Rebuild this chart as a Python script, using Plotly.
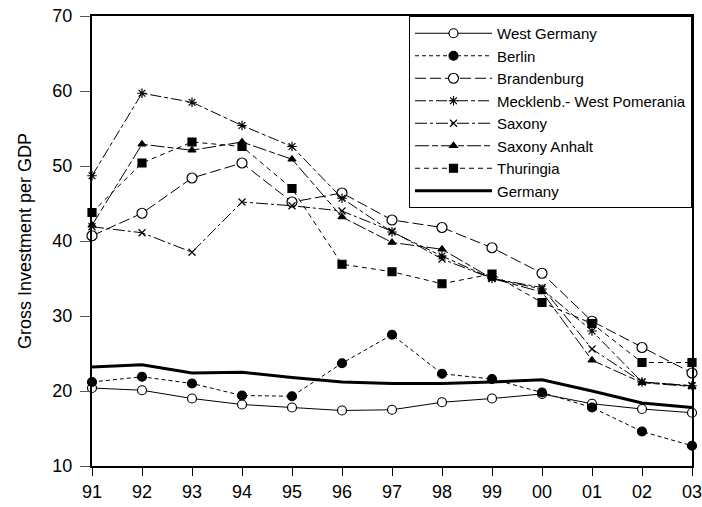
import plotly.graph_objects as go

# Years on the x axis and their two-digit labels
years = list(range(1991, 2004))
year_labels = ["91", "92", "93", "94", "95", "96", "97", "98", "99", "00", "01", "02", "03"]

# Gross investment per GDP (%)
west_germany = [20.4, 20.1, 19.0, 18.2, 17.8, 17.4, 17.5, 18.5, 19.0, 19.6, 18.3, 17.6, 17.1]
berlin = [21.2, 21.9, 21.0, 19.4, 19.3, 23.7, 27.5, 22.3, 21.6, 19.8, 17.8, 14.6, 12.7]
brandenburg = [40.7, 43.7, 48.4, 50.4, 45.2, 46.4, 42.8, 41.8, 39.1, 35.7, 29.3, 25.8, 22.4]
mecklenburg = [48.7, 59.7, 58.5, 55.4, 52.6, 45.7, 41.2, 38.0, 35.0, 33.6, 28.0, 21.2, 20.7]
saxony = [41.9, 41.1, 38.5, 45.2, 44.7, 44.0, 41.3, 37.6, 35.0, 33.8, 25.6, 21.2, 20.7]
saxony_anhalt = [42.1, 52.9, 52.1, 53.2, 50.9, 43.2, 39.8, 38.9, 35.0, 33.2, 24.1, 21.1, 20.6]
thuringia = [43.8, 50.4, 53.2, 52.6, 47.0, 36.9, 35.9, 34.3, 35.6, 31.8, 29.0, 23.8, 23.8]
germany = [23.2, 23.5, 22.4, 22.5, 21.8, 21.2, 21.0, 21.0, 21.2, 21.5, 20.0, 18.4, 17.8]

FONT = "Arial, Liberation Sans, sans-serif"

# name, values, dash pattern, marker symbol, marker size, marker fill
series = [
    ("West Germany", west_germany, "solid", "circle", 9, "white"),
    ("Berlin", berlin, "4px,3px", "circle", 9, "black"),
    ("Brandenburg", brandenburg, "11px,4px", "circle", 10, "white"),
    ("Mecklenb.- West Pomerania", mecklenburg, "11px,3px,4px,3px", "asterisk", 8, "black"),
    ("Saxony", saxony, "12px,3px,3px,3px", "x-thin", 7, "black"),
    ("Saxony Anhalt", saxony_anhalt, "14px,3px,6px,3px", "triangle-up", 7, "black"),
    ("Thuringia", thuringia, "5px,4px", "square", 8, "black"),
]

fig = go.Figure()
for name, vals, dash, symbol, size, fill in series:
    fig.add_trace(go.Scatter(
        x=years, y=vals, name=name, mode="lines+markers",
        line=dict(color="black", width=1, dash=dash),
        marker=dict(symbol=symbol, size=size, color=fill,
                    line=dict(color="black", width=1.2)),
        cliponaxis=False,
    ))

fig.add_trace(go.Scatter(
    x=years, y=germany, name="Germany", mode="lines",
    line=dict(color="black", width=3),
    cliponaxis=False,
))

fig.update_layout(
    width=702, height=507,
    margin=dict(l=92, r=10, t=16, b=41),
    paper_bgcolor="white", plot_bgcolor="white",
    font=dict(family=FONT, color="black", size=18),
    showlegend=True,
    legend=dict(
        x=1, y=1, xanchor="right", yanchor="top",
        bgcolor="white", bordercolor="black", borderwidth=1,
        font=dict(family=FONT, size=15, color="black"),
        itemwidth=77, tracegroupgap=0,
    ),
)

fig.update_xaxes(
    range=[1991, 2003], tickmode="array", tickvals=years, ticktext=year_labels,
    showline=True, linecolor="black", linewidth=2, mirror=True,
    ticks="outside", ticklen=8, tickwidth=1, tickcolor="black",
    showgrid=False, zeroline=False, automargin=False,
    ticklabeloverflow="allow",
    tickfont=dict(family=FONT, size=18),
)
fig.update_yaxes(
    range=[10, 70], dtick=10,
    showline=True, linecolor="black", linewidth=2, mirror=True,
    ticks="outside", ticklen=10, tickwidth=1, tickcolor="#555",
    ticklabelstandoff=4, automargin=False,
    showgrid=False, zeroline=False,
    tickfont=dict(family=FONT, size=18),
    title=dict(text="Gross Investment per GDP", font=dict(family=FONT, size=18), standoff=16),
)

fig.write_html("out.html")
